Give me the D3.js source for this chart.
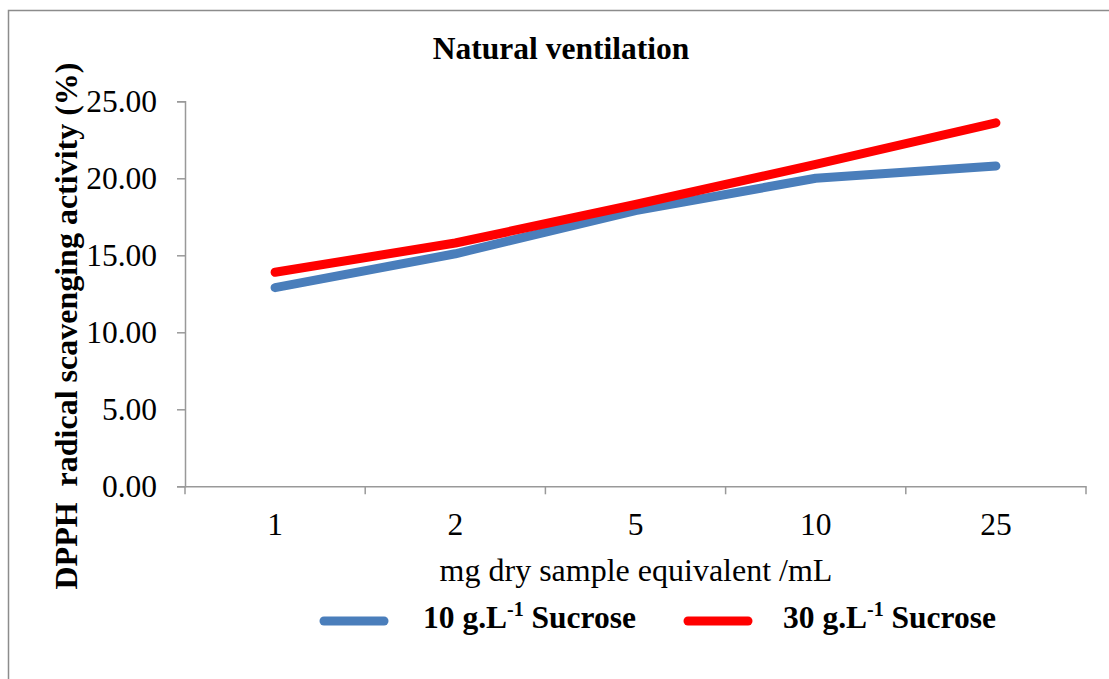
<!DOCTYPE html>
<html>
<head>
<meta charset="utf-8">
<script src="https://cdn.jsdelivr.net/npm/d3@7"></script>
<style>
  body { margin: 0; background: #fff; }
  text { font-family: "Liberation Serif", "Times New Roman", serif; fill: #000; }
</style>
</head>
<body>
<script>
// categories and series
var categories = ["1", "2", "5", "10", "25"];
var sucrose10 = [12.9, 15.1, 17.9, 20.0, 20.8];
var sucrose30 = [13.9, 15.8, 18.3, 20.9, 23.6];
var yTicks = [0, 5, 10, 15, 20, 25];
var seriesNames = ["10 g.L", "30 g.L"];

var W = 1109, H = 679;
var plot = {left: 185, right: 1086, top: 101.3, bottom: 486.3};
var axisColor = "#999999";

var svg = d3.select("body").append("svg")
    .attr("width", W)
    .attr("height", H);

// outer chart border (runs off right and bottom of the picture)
svg.append("rect")
    .attr("x", 8.5).attr("y", 10.5)
    .attr("width", W + 20).attr("height", H + 20)
    .attr("fill", "none")
    .attr("stroke", "#8c8c8c")
    .attr("stroke-width", 1.5);

var x = d3.scaleBand().domain(categories).range([plot.left, plot.right]).padding(0);
var y = d3.scaleLinear().domain([0, 25]).range([plot.bottom, plot.top]);

// y axis
var yAxis = svg.append("g")
    .attr("transform", "translate(" + plot.left + ",0)")
    .call(d3.axisLeft(y).tickValues(yTicks).tickFormat(d3.format(".2f")).tickSize(8).tickPadding(20));
yAxis.select(".domain").attr("stroke", axisColor).attr("stroke-width", 1.5);
yAxis.selectAll("line").attr("stroke", axisColor).attr("stroke-width", 1.5);
yAxis.selectAll("text").style("font-size", "31.5px").style("font-family", "Liberation Serif").attr("fill", "#000");

// x axis: labels centred in bands, ticks on band edges
var xAxis = svg.append("g")
    .attr("transform", "translate(0," + plot.bottom + ")")
    .call(d3.axisBottom(x).tickSize(0).tickPadding(26));
xAxis.select(".domain").attr("stroke", axisColor).attr("stroke-width", 1.5);
xAxis.selectAll("text").style("font-size", "31.5px").style("font-family", "Liberation Serif").attr("fill", "#000");
var edges = categories.map(function(c) { return x(c); }).concat([plot.right]);
xAxis.selectAll(".edge")
    .data(edges)
    .enter().append("line")
    .attr("x1", function(d) { return d; })
    .attr("x2", function(d) { return d; })
    .attr("y1", 0).attr("y2", 8)
    .attr("stroke", axisColor)
    .attr("stroke-width", 1.5);

// lines
var line = d3.line()
    .x(function(d, i) { return x(categories[i]) + x.bandwidth() / 2; })
    .y(function(d) { return y(d); });

var series = [
    {values: sucrose10, color: "#4a7ebb"},
    {values: sucrose30, color: "#ff0000"}
];

svg.selectAll(".series")
    .data(series)
    .enter().append("path")
    .attr("d", function(d) { return line(d.values); })
    .attr("fill", "none")
    .attr("stroke", function(d) { return d.color; })
    .attr("stroke-width", 9)
    .attr("stroke-linecap", "round")
    .attr("stroke-linejoin", "round");

// title
svg.append("text")
    .attr("x", 561).attr("y", 59)
    .attr("text-anchor", "middle")
    .style("font-size", "31.5px")
    .style("font-weight", "bold")
    .text("Natural ventilation");

// axis titles
svg.append("text")
    .attr("transform", "translate(77,326) rotate(-90)")
    .attr("text-anchor", "middle")
    .style("font-size", "32px")
    .style("font-weight", "bold")
    .attr("xml:space", "preserve")
    .text("DPPH  radical scavenging activity (%)");

svg.append("text")
    .attr("x", 636).attr("y", 581)
    .attr("text-anchor", "middle")
    .style("font-size", "32px")
    .text("mg dry sample equivalent /mL");

// legend
var legendPos = [{x: 324, tx: 423}, {x: 688, tx: 783}];
var legend = svg.selectAll(".legend")
    .data(series)
    .enter().append("g")
    .attr("transform", function(d, i) { return "translate(" + legendPos[i].x + ",621)"; });

legend.append("line")
    .attr("x1", 0).attr("x2", 60)
    .attr("y1", 0).attr("y2", 0)
    .attr("stroke", function(d) { return d.color; })
    .attr("stroke-width", 9)
    .attr("stroke-linecap", "round");

var lt = legend.append("text")
    .attr("x", function(d, i) { return legendPos[i].tx - legendPos[i].x; })
    .attr("y", 7)
    .style("font-size", "31.5px")
    .style("font-weight", "bold");
lt.append("tspan").text(function(d, i) { return seriesNames[i]; });
lt.append("tspan").attr("dy", -12).style("font-size", "20px").text("-1");
lt.append("tspan").attr("dy", 12).text(" Sucrose");
</script>
</body>
</html>
